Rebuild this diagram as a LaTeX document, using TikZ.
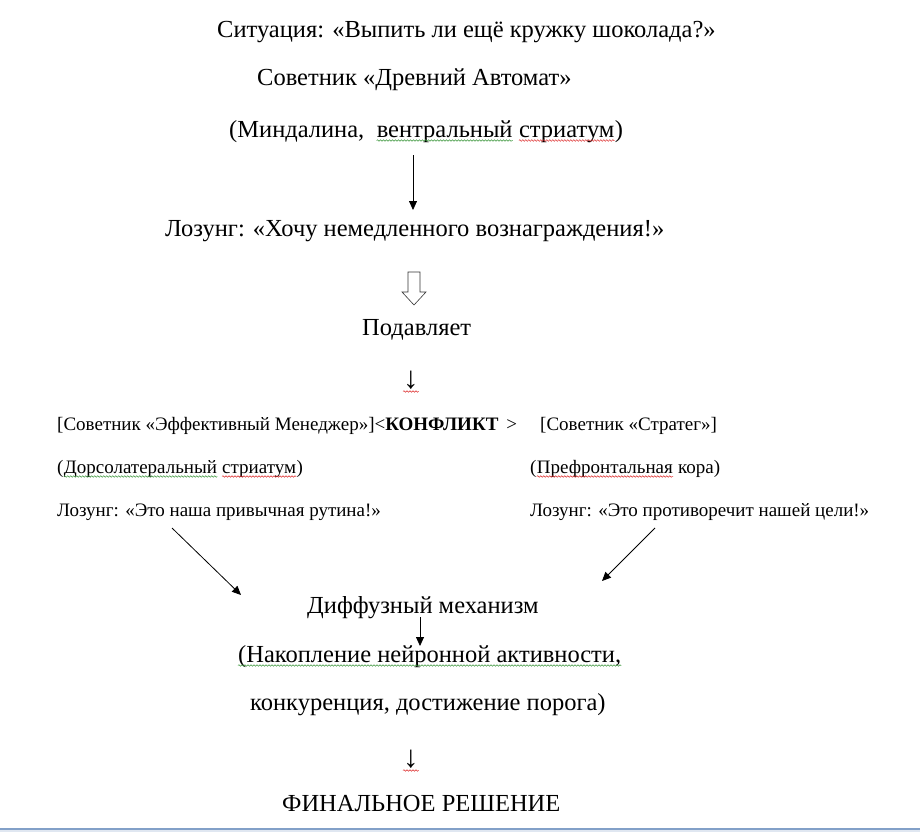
\documentclass[tikz,border=0pt]{standalone}
\usepackage{fontspec}
\setmainfont{Liberation Serif}
\usetikzlibrary{arrows.meta,decorations.pathmorphing}
\definecolor{spellgreen}{RGB}{60,150,60}
\definecolor{spellred}{RGB}{220,40,40}
\definecolor{rulecol}{RGB}{130,160,200}
\tikzset{
  big/.style={inner sep=0pt, anchor=base west, font=\fontsize{24.5}{28}\selectfont},
  small/.style={inner sep=0pt, anchor=base west, font=\fontsize{19}{22}\selectfont},
  glyph/.style={inner sep=0pt, anchor=base west, font=\fontsize{31}{34}\selectfont},
  arr/.style={line width=0.8pt, -{Triangle[length=9pt,width=8pt]}},
  hollow/.style={draw=black!80, fill=white, line width=0.6pt},
  wave/.style={draw=#1, line width=0.5pt, decorate, decoration={snake, amplitude=0.8pt, segment length=3pt}}
}
\newcommand\under[2]{\draw[wave=#1] ([yshift=-3.5pt]#2.base west) -- ([yshift=-3.5pt]#2.base east);}
\begin{document}
\begin{tikzpicture}[x=1pt,y=-1pt]
\useasboundingbox (0,0) rectangle (920,832);
% main column
\node[big] (sit) at (217,38) {Ситуация: «Выпить ли ещё кружку шоколада?»};
\node[big] (adv) at (257,86) {Советник «Древний Автомат»};
\node[big] (amyA) at (229,137) {(Миндалина,};
\node[big] (amyB) at ([xshift=12pt]amyA.base east) {вентральный};
\node[big] (amyC) at ([xshift=6.1pt]amyB.base east) {стриатум};
\node[big] (amyD) at (amyC.base east) {)};
\node[big] (slog) at (165,236) {Лозунг: «Хочу немедленного вознаграждения!»};
\node[big] (sup) at (362,335) {Подавляет};
\node[glyph] (ar1) at (403,388) {↓};
% conflict block
\node[small] (mgr) at (57,430) {[Советник «Эффективный Менеджер»]<\textbf{КОНФЛИКТ} \,>};
\node[small] (str) at (540,430) {[Советник «Стратег»]};
\node[small] (dlsA) at (57,473) {(};
\node[small] (dlsB) at (dlsA.base east) {Дорсолатеральный};
\node[small] (dlsC) at ([xshift=4.75pt]dlsB.base east) {стриатум};
\node[small] (dlsD) at (dlsC.base east) {)};
\node[small] (pfcA) at (530,473) {(};
\node[small] (pfcB) at (pfcA.base east) {Префронтальная};
\node[small] (pfcC) at ([xshift=4.75pt]pfcB.base east) {кора)};
\node[small] (sl1) at (57,516) {Лозунг: «Это наша привычная рутина!»};
\node[small] (sl2) at (530,516) {Лозунг: «Это противоречит нашей цели!»};
% diffusion
\node[big] (dif) at (307,613) {Диффузный механизм};
\node[big] (acc) at (238,662) {(Накопление нейронной активности,};
\node[big] (con) at (250,710) {конкуренция, достижение порога)};
\node[glyph] (ar2) at (403,767) {↓};
\node[big] (fin) at (282,811) {ФИНАЛЬНОЕ РЕШЕНИЕ};
% spelling marks
\under{spellgreen}{amyB}
\under{spellred}{amyC}
\under{spellgreen}{dlsB}
\under{spellred}{dlsC}
\under{spellred}{pfcB}
\under{spellgreen}{acc}
\under{spellred}{ar1}
\under{spellred}{ar2}
% connectors
\coordinate (a1s) at (413,155);
\coordinate (a1e) at (413,210);
\draw[arr] (a1s) -- (a1e);
\coordinate (h1) at (408,272);
\draw[hollow] (h1) -- ++(12,0) -- ++(0,20) -- ++(6,0) -- ++(-12,13) -- ++(-12,-13) -- ++(6,0) -- cycle;
\coordinate (l1s) at (172,528);
\coordinate (l1e) at (241,595);
\draw[arr] (l1s) -- (l1e);
\coordinate (r1s) at (655,528);
\coordinate (r1e) at (602,581);
\draw[arr] (r1s) -- (r1e);
\coordinate (d1s) at (420,617);
\coordinate (d1e) at (420,646);
\draw[arr] (d1s) -- (d1e);
% bottom rule
\fill[rulecol!25] (0,829) rectangle (920,832);
\draw[rulecol, line width=1.2pt] (0,829) -- (920,829);
\end{tikzpicture}
\end{document}
